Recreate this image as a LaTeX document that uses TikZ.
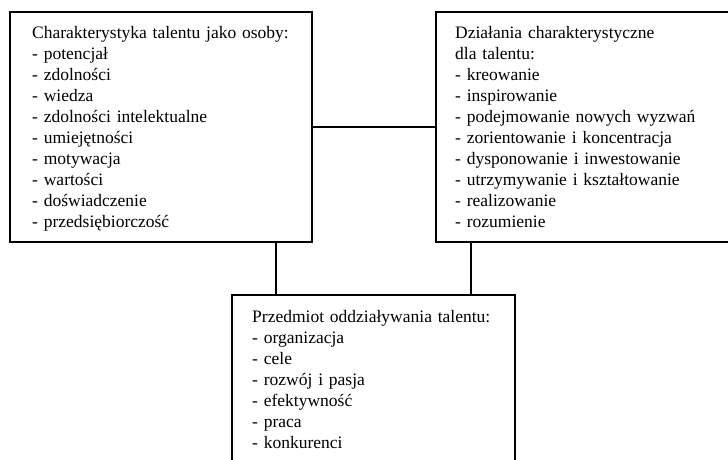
\documentclass[tikz,border=0pt]{standalone}
\usepackage{fontspec}
\setmainfont{Liberation Serif}
\begin{document}
\begin{tikzpicture}[x=1pt,y=-1pt,
  box/.style={draw, line width=1.4pt, rectangle, anchor=north west, inner sep=0pt, outer sep=0pt},
  txt/.style={anchor=base west, inner sep=0pt, align=left, text width=280pt,
    font=\fontsize{17.5}{21}\selectfont},
  link/.style={line width=1.4pt}]
\useasboundingbox (0,0) rectangle (728,459);
\clip (0,0) rectangle (728,459);

% the three frames
\node[box, minimum width=302pt, minimum height=230pt] (L) at (10,12) {};
\node[box, minimum width=312pt, minimum height=230pt] (R) at (436,12) {};
\node[box, minimum width=283pt, minimum height=210pt] (B) at (232,295) {};

% their lists
\node[txt] (Lt) at (32,38) {Charakterystyka talentu jako osoby:\\
- potencjał\\
- zdolności\\
- wiedza\\
- zdolności intelektualne\\
- umiejętności\\
- motywacja\\
- wartości\\
- doświadczenie\\
- przedsiębiorczość};

\node[txt] (Rt) at (455,38) {Działania charakterystyczne\\
dla talentu:\\
- kreowanie\\
- inspirowanie\\
- podejmowanie nowych wyzwań\\
- zorientowanie i koncentracja\\
- dysponowanie i inwestowanie\\
- utrzymywanie i kształtowanie\\
- realizowanie\\
- rozumienie};

\node[txt] (Bt) at (252,322) {Przedmiot oddziaływania talentu:\\
- organizacja\\
- cele\\
- rozwój i pasja\\
- efektywność\\
- praca\\
- konkurenci};

% connectors
\coordinate (lj) at (276,0);
\coordinate (rj) at (471,0);
\draw[link] (L.east) -- (R.west);
\draw[link] (L.south -| lj) -- (B.north -| lj);
\draw[link] (R.south -| rj) -- (B.north -| rj);
\end{tikzpicture}
\end{document}
